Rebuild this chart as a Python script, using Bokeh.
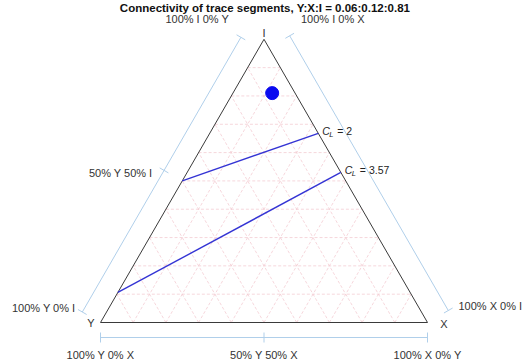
import numpy as np
from bokeh.plotting import figure
from bokeh.models import Range1d
from bokeh.core.properties import value
from bokeh.embed import file_html
from bokeh.resources import INLINE

# ---------------- data ----------------
title_text = "Connectivity of trace segments, Y:X:I = 0.06:0.12:0.81"
vertex_labels = ["Y", "X", "I"]
point_Y = [0.06]
point_X = [0.12]
point_I = [0.81]
cl_values = ["2", "3.57"]
cl_start_Y = [0.50, 0.894]
cl_start_X = [0.0, 0.0]
cl_start_I = [0.50, 0.106]
cl_end_Y = [0.0, 0.0]
cl_end_X = [0.332, 0.47]
cl_end_I = [0.668, 0.53]
grid_levels = [0.1, 0.2, 0.3, 0.4, 0.5, 0.6, 0.7, 0.8, 0.9]
bottom_tick_fracs = [0.0, 0.5, 1.0]
bottom_tick_labels = ["100% Y 0% X", "50% Y 50% X", "100% X 0% Y"]
left_tick_fracs = [0.0, 0.5, 0.97]
left_tick_labels = ["100% Y 0% I", "50% Y 50% I", "100% I 0% Y"]
right_tick_fracs = [0.0, 0.97]
right_tick_labels = ["100% X 0% I", "100% I 0% X"]

# ---------------- layout ----------------
W, H = 523, 362
S = 327.0                      # px per unit side
OX, OY = 100.0, 322.0          # px of the Y vertex
H3 = np.sqrt(3) / 2
BIAS = -3.5                    # baseline correction (px)


def cart(y, x, i):
    y, x, i = np.asarray(y, float), np.asarray(x, float), np.asarray(i, float)
    return x + i / 2.0, i * H3


def off(dx, dy_down):
    return dx / S, -dy_down / S


FONT = value("Liberation Sans")
p = figure(width=W, height=H, output_backend="svg", toolbar_location=None,
           x_range=Range1d(-OX / S, (W - OX) / S),
           y_range=Range1d(-(H - OY) / S, OY / S),
           min_border=0)
p.axis.visible = False
p.grid.visible = False
p.outline_line_color = None
p.background_fill_color = "white"

Yv = np.array(cart(1, 0, 0))
Xv = np.array(cart(0, 1, 0))
Iv = np.array(cart(0, 0, 1))

# grid
gx, gy = [], []
for k in grid_levels:
    for a, b in [((1 - k, 0, k), (0, 1 - k, k)),
                 ((1 - k, k, 0), (0, k, 1 - k)),
                 ((k, 1 - k, 0), (k, 0, 1 - k))]:
        ax_, ay_ = cart(*a)
        bx_, by_ = cart(*b)
        gx.append([float(ax_), float(bx_)])
        gy.append([float(ay_), float(by_)])
p.multi_line(gx, gy, line_color="#f4cdd3", line_width=0.8, line_dash="3 2")

# triangle
p.line([Yv[0], Xv[0], Iv[0], Yv[0]], [Yv[1], Xv[1], Iv[1], Yv[1]],
       line_color="#3a3a3a", line_width=1)

# outer axes
AXC = "#b0cfea"
n_left = np.array([-H3, 0.5])
n_right = np.array([H3, 0.5])
n_bot = np.array([0.0, -1.0])
specs = [(Yv, Iv, n_left, 21 / S, left_tick_fracs),
         (Xv, Iv, n_right, 24 / S, right_tick_fracs),
         (Yv, Xv, n_bot, 15 / S, bottom_tick_fracs)]
ax_xs, ax_ys = [], []
tick_len = 5 / S
for a, b, n, d, fr in specs:
    a0 = a + n * d
    b0 = b + n * d
    end = a0 + (b0 - a0) * max(fr)
    ax_xs.append([a0[0], end[0]])
    ax_ys.append([a0[1], end[1]])
    for f in fr:
        c = a0 + (b0 - a0) * f
        ax_xs.append([c[0] - n[0] * tick_len, c[0] + n[0] * tick_len])
        ax_ys.append([c[1] - n[1] * tick_len, c[1] + n[1] * tick_len])
p.multi_line(ax_xs, ax_ys, line_color=AXC, line_width=1)

# iso-connectivity lines
sx, sy = cart(cl_start_Y, cl_start_X, cl_start_I)
ex, ey = cart(cl_end_Y, cl_end_X, cl_end_I)
p.segment(x0=sx, y0=sy, x1=ex, y1=ey, line_color="#3434d4", line_width=1.4)

# C_L labels
cdx, cdy = off(4, -2)
ldx, ldy = off(11, 1.5)
edx, edy = off(19, -2)
p.text(x=ex + cdx, y=ey + cdy, text=["C"] * len(cl_values), text_font=FONT,
       text_font_size="10.5px", text_font_style="italic", text_color="#222222",
       text_align="left", text_baseline="middle")
p.text(x=ex + ldx, y=ey + ldy, text=["L"] * len(cl_values), text_font=FONT,
       text_font_size="7.5px", text_font_style="italic", text_color="#222222",
       text_align="left", text_baseline="middle")
p.text(x=ex + edx, y=ey + edy, text=["= " + v for v in cl_values], text_font=FONT,
       text_font_size="10.5px", text_color="#222222",
       text_align="left", text_baseline="middle")

# point
px_, py_ = cart(point_Y, point_X, point_I)
p.scatter(px_, py_, size=13, fill_color="#0a0af0", line_color="#0a0af0")


def label(txt, base, dx, dy_down, align, size="11px", style="normal", color="#333333"):
    o = off(dx, dy_down + BIAS)
    p.text(x=[base[0] + o[0]], y=[base[1] + o[1]], text=[txt], text_font=FONT,
           text_font_size=size, text_font_style=style, text_color=color,
           text_align=align, text_baseline="alphabetic")


# title
label(title_text, Yv, 164.5, -311.5, "center", size="11.5px", style="bold", color="#111111")
# vertex labels
label(vertex_labels[0], Yv, -9.5, 3.5, "center")
label(vertex_labels[1], Xv, 16.5, 5, "center")
label(vertex_labels[2], Iv, 0, -3.3, "center")
# left axis labels
label(left_tick_labels[0], Yv, -25, -11.4, "right")
mid_left = (Yv + Iv) / 2
label(left_tick_labels[1], mid_left, -29.7, -4.8, "right")
label(left_tick_labels[2], Iv, -35, -17.3, "right")
# right axis labels
label(right_tick_labels[0], Xv, 31, -13, "left")
label(right_tick_labels[1], Iv, 37, -17.3, "left")
# bottom labels
for f, t in zip(bottom_tick_fracs, bottom_tick_labels):
    base = Yv + (Xv - Yv) * f
    label(t, base, 0, 36, "center")

open("out.html", "w").write(file_html(p, INLINE))
